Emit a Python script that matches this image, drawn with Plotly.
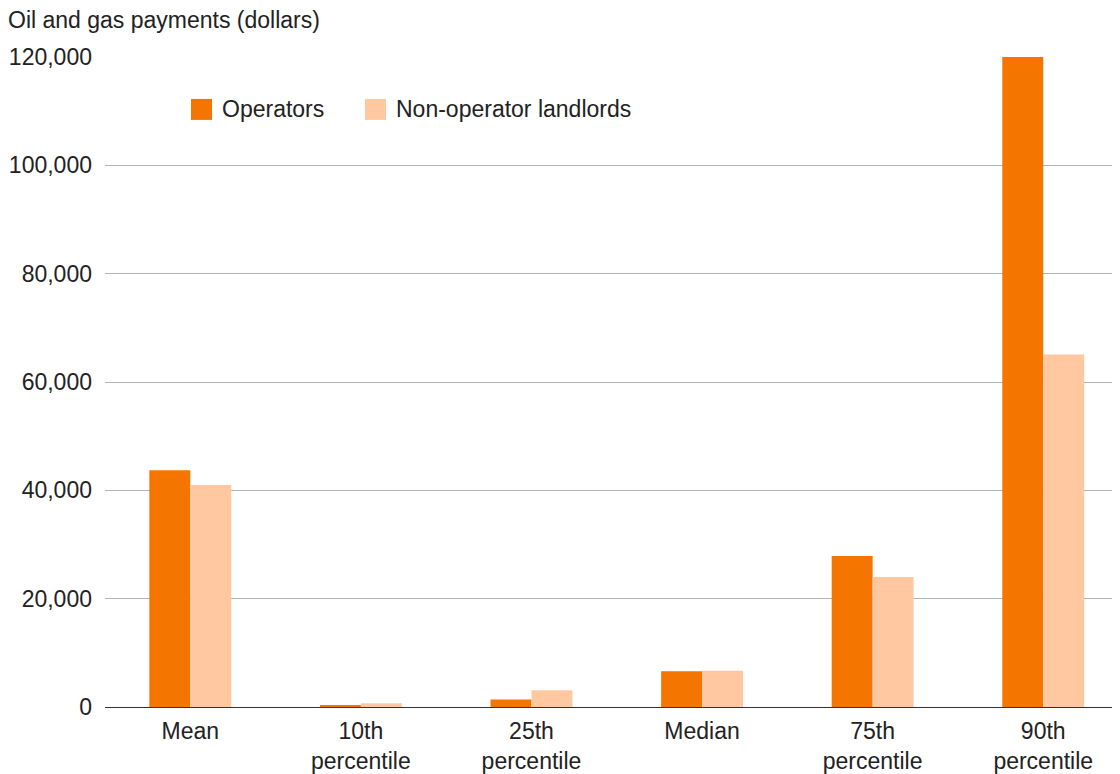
import plotly.graph_objects as go

categories = ["Mean", "10th<br>percentile", "25th<br>percentile", "Median", "75th<br>percentile", "90th<br>percentile"]
operators = [43700, 300, 1400, 6600, 27900, 120000]
non_operators = [41000, 700, 3100, 6700, 24000, 65100]
y_ticks = [0, 20000, 40000, 60000, 80000, 100000, 120000]

FONT = "Liberation Sans, Arial, Helvetica, sans-serif"
TEXT = "#222222"
OP_COLOR = "#f47500"
NONOP_COLOR = "#ffc8a0"

# the page body adds an 8px offset; plot area sits at x 105..1120, y 57..708 on the page
def px(x):
    return (x - 105) / 1015

def py(y):
    return (708 - y) / 651

fig = go.Figure()

fig.add_trace(go.Bar(
    x=categories,
    y=operators,
    name="Operators",
    marker=dict(color=OP_COLOR, line=dict(width=0)),
))

fig.add_trace(go.Bar(
    x=categories,
    y=non_operators,
    name="Non-operator landlords",
    marker=dict(color=NONOP_COLOR, line=dict(width=0)),
))

legend_items = [("Operators", OP_COLOR, 191), ("Non-operator landlords", NONOP_COLOR, 365)]
shapes = []
annotations = []
for label, color, left in legend_items:
    shapes.append(dict(
        type="rect", xref="paper", yref="paper",
        x0=px(left), x1=px(left + 21), y0=py(120), y1=py(99),
        fillcolor=color, line=dict(width=0),
    ))
    annotations.append(dict(
        text=label, xref="paper", yref="paper",
        x=px(left + 29), y=py(109),
        xanchor="left", yanchor="middle", showarrow=False,
        font=dict(size=23, color=TEXT),
    ))

annotations.append(dict(
    text="Oil and gas payments (dollars)",
    xref="paper", yref="paper",
    x=px(6), y=py(20),
    xanchor="left", yanchor="middle",
    showarrow=False,
    font=dict(size=23, color=TEXT),
))

fig.update_layout(
    width=1112,
    height=766,
    margin=dict(l=97, r=0, t=49, b=58),
    paper_bgcolor="white",
    plot_bgcolor="white",
    barmode="group",
    bargap=0.52,
    bargroupgap=0,
    font=dict(family=FONT, size=23, color=TEXT),
    showlegend=False,
    xaxis=dict(
        range=[-0.5, 5.45],
        showgrid=False,
        showline=False,
        ticks="",
        ticklabelstandoff=8,
        tickfont=dict(size=23, color=TEXT),
    ),
    yaxis=dict(
        range=[0, 120000],
        tickvals=y_ticks,
        ticktext=[f"{v:,}" for v in y_ticks],
        showgrid=True,
        gridcolor="#b4b4b4",
        gridwidth=1,
        zeroline=True,
        zerolinecolor="#333333",
        zerolinewidth=1.2,
        showline=False,
        ticks="",
        ticklabelstandoff=12,
        tickfont=dict(size=23, color=TEXT),
    ),
    shapes=shapes,
    annotations=annotations,
)

fig.write_html("out.html")
